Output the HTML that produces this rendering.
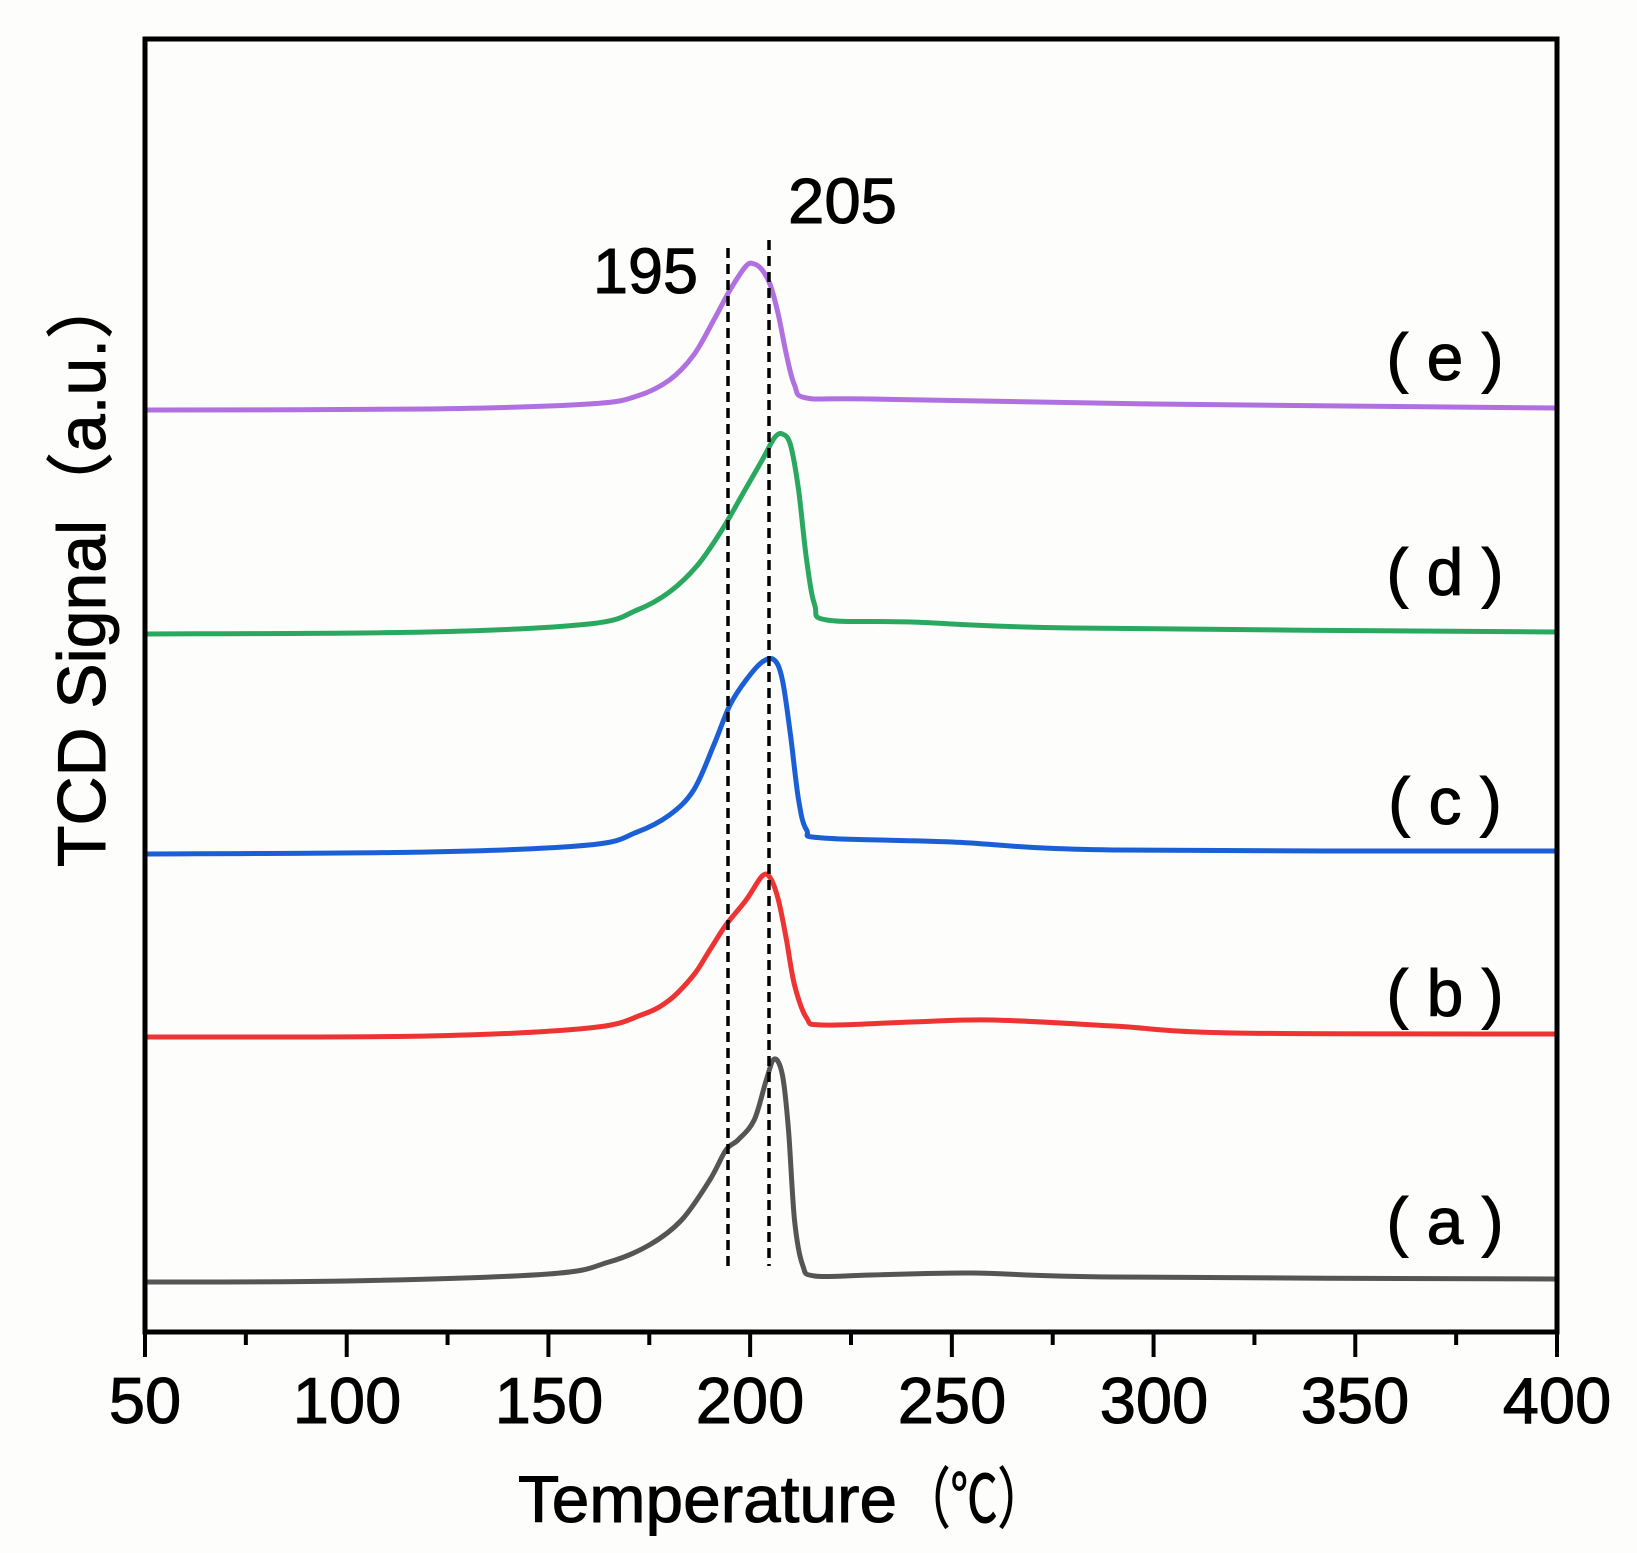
<!DOCTYPE html>
<html><head><meta charset="utf-8"><style>
html,body{margin:0;padding:0;background:#fff;}
svg{display:block;}
text{font-family:"Liberation Sans","Noto Sans CJK SC",sans-serif;fill:#000;stroke:#000;stroke-width:1;}
</style></head><body>
<svg id="s" width="1637" height="1553" viewBox="0 0 1637 1553" xmlns="http://www.w3.org/2000/svg">
<rect width="1637" height="1553" fill="#fdfdfb"/>
<g id="curves" fill="none" stroke-width="5" stroke-linejoin="round"></g>
<line x1="728" y1="248" x2="728" y2="1272" stroke="#000" stroke-width="3.5" stroke-dasharray="10,6"/>
<line x1="769" y1="240" x2="769" y2="1266" stroke="#000" stroke-width="3.5" stroke-dasharray="10,6"/>
<rect x="145" y="39" width="1412" height="1293" fill="none" stroke="#000" stroke-width="5"/>
<g id="ticks" stroke="#000" stroke-width="4"></g>
<g font-size="65" text-anchor="middle">
<text x="145" y="1423">50</text><text x="347" y="1423">100</text><text x="549" y="1423">150</text>
<text x="750" y="1423">200</text><text x="952" y="1423">250</text><text x="1154" y="1423">300</text>
<text x="1355" y="1423">350</text><text x="1557" y="1423">400</text>
</g>
<text x="518" y="1522" font-size="66" textLength="379" lengthAdjust="spacingAndGlyphs">Temperature</text>
<text x="903" y="1522" font-size="66" textLength="142" lengthAdjust="spacingAndGlyphs">（℃）</text>
<text transform="translate(105,569) rotate(-90)" font-size="68" text-anchor="middle" textLength="596" lengthAdjust="spacingAndGlyphs">TCD Signal（a.u.）</text>
<text x="593" y="293" font-size="64" textLength="105" lengthAdjust="spacingAndGlyphs">195</text>
<text x="788" y="223" font-size="64" textLength="109" lengthAdjust="spacingAndGlyphs">205</text>
<g font-size="66" text-anchor="middle">
<text x="1445" y="380">( e )</text>
<text x="1445" y="595">( d )</text>
<text x="1445" y="824">( c )</text>
<text x="1445" y="1016">( b )</text>
<text x="1445" y="1244">( a )</text>
</g>
</svg>
<script>
function X(T){return 145+(T-50)*1412/350;}
var ticks=document.getElementById('ticks');var th='';
for(var T=50;T<=400;T+=25){var x=X(T);var L=(T%50==0)?25:13;th+='<line x1="'+x+'" y1="1332" x2="'+x+'" y2="'+(1332+L)+'"/>';}
ticks.innerHTML=th;
var S=[
['#555555',[[50,1282],[100,1281],[150,1274],[165,1262],[175,1245],[183,1220],[190,1180],[194,1150],[197,1140],[201,1120],[204,1080],[206,1059],[208,1075],[209.5,1130],[211,1220],[213,1265],[216,1276],[230,1275],[255,1273],[290,1277],[400,1279]]],
['#ee3333',[[50,1037],[120,1036],[160,1028],[173,1015],[180,1000],[186,975],[190,950],[194,925],[199,900],[203,876],[205,878],[207,900],[209,940],[211,985],[214,1018],[218,1025],[240,1022],[260,1020],[290,1026],[320,1033],[400,1034]]],
['#1a5fd6',[[50,854],[120,852],[160,845],[172,832],[180,815],[186,790],[191,745],[195,705],[199,680],[203,662],[206,660],[208,680],[210,735],[212,800],[214,830],[218,838],[250,842],[290,850],[400,851]]],
['#2aa860',[[50,634],[120,632],[160,624],[172,610],[180,592],[187,565],[193,530],[198,495],[203,460],[206,438],[208,434],[210,445],[212,490],[214,560],[216,605],[219,620],[240,622],[280,628],[400,632]]],
['#b070e0',[[50,410],[120,409],[160,404],[172,396],[180,380],[186,355],[191,320],[195,290],[199,266],[201,264],[203,270],[205,285],[207,315],[209,355],[211,385],[214,398],[230,399],[300,404],[400,408]]]
];
var g='';
S.forEach(function(s){var p=s[1].map(function(q){return [X(q[0]),q[1]];});
var d='M'+p[0][0]+','+p[0][1];
for(var i=0;i<p.length-1;i++){var p0=p[Math.max(0,i-1)],p1=p[i],p2=p[i+1],p3=p[Math.min(p.length-1,i+2)];
var c1x=p1[0]+(p2[0]-p0[0])/6,c1y=p1[1]+(p2[1]-p0[1])/6,c2x=p2[0]-(p3[0]-p1[0])/6,c2y=p2[1]-(p3[1]-p1[1])/6;
d+=' C'+c1x.toFixed(1)+','+c1y.toFixed(1)+' '+c2x.toFixed(1)+','+c2y.toFixed(1)+' '+p2[0].toFixed(1)+','+p2[1];}
g+='<path d="'+d+'" stroke="'+s[0]+'"/>';});
document.getElementById('curves').innerHTML=g;
</script>
</body></html>
